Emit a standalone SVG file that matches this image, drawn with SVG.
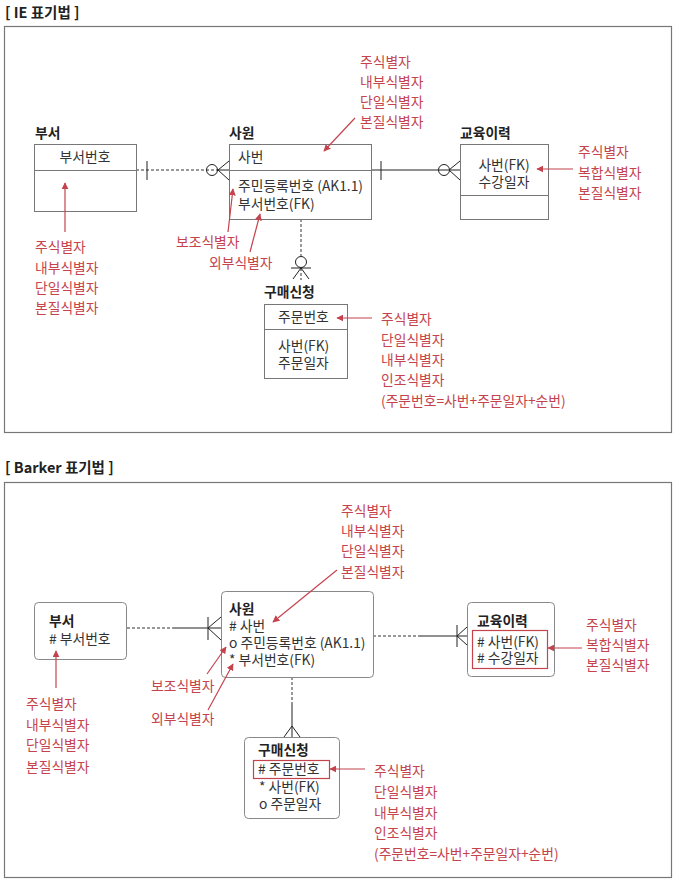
<svg xmlns="http://www.w3.org/2000/svg" width="677" height="882" viewBox="0 0 677 882">
<style>
text{font-family:"Noto Sans CJK KR","Noto Sans",sans-serif;font-size:13.8px;fill:#333}
.t{font-weight:bold;fill:#222}
.h{font-size:14.5px}
.r{fill:#c4434d}
.frame{fill:none;stroke:#777;stroke-width:1.2}
.box{fill:#fff;stroke:#777;stroke-width:1}
.rbox{fill:#fff;stroke:#888;stroke-width:1}
.hl{fill:none;stroke:#c4434d;stroke-width:1.2}
.ln{fill:none;stroke:#222;stroke-width:1}
.dv{fill:none;stroke:#777;stroke-width:1}
.dash{fill:none;stroke:#333;stroke-width:1;stroke-dasharray:3 2}
.ra{fill:none;stroke:#c4434d;stroke-width:1.2;marker-end:url(#ah)}
</style>
<defs>
<marker id="ah" viewBox="0 0 10 10" refX="9" refY="5" markerWidth="7" markerHeight="7" markerUnits="userSpaceOnUse" orient="auto">
<path d="M0,0 L10,5 L0,10 z" fill="#c4434d"/>
</marker>
</defs>
<rect width="677" height="882" fill="#fff"/>

<!-- IE section -->
<text x="5" y="18" class="t h">[ IE 표기법 ]</text>
<rect x="4.5" y="26.5" width="667" height="406" class="frame"/>

<g id="ie-connectors">
<line x1="136" y1="170" x2="218" y2="170" class="dash"/>
<line x1="147" y1="161" x2="147" y2="180" class="ln"/>
<circle cx="212" cy="170" r="5.5" class="ln"/>
<path d="M218,170 L229,161 M218,170 L229,170 M218,170 L229,180" class="ln"/>
<line x1="371" y1="170" x2="460" y2="170" class="ln"/>
<line x1="381" y1="161" x2="381" y2="180" class="ln"/>
<circle cx="444" cy="170" r="5.5" class="ln"/>
<path d="M449,170 L460,161 M449,170 L460,180" class="ln"/>
<line x1="301" y1="219" x2="301" y2="256" class="dash"/>
<circle cx="301" cy="262" r="5.5" class="ln"/>
<line x1="301" y1="268" x2="301" y2="280" class="dash"/>
<path d="M291,268 L311,268 M301,268 L293,279 M301,268 L309,279" class="ln"/>
</g>

<g id="ie-busu">
<text x="35" y="138" class="t">부서</text>
<rect x="34.5" y="144.5" width="102" height="67" class="box"/>
<line x1="34.5" y1="170.5" x2="136.5" y2="170.5" class="dv"/>
<text x="85" y="162" text-anchor="middle">부서번호</text>
</g>

<g id="ie-sawon">
<text x="229" y="138" class="t">사원</text>
<rect x="229.5" y="144.5" width="142" height="75" class="box"/>
<line x1="229.5" y1="170.5" x2="371.5" y2="170.5" class="dv"/>
<text x="238" y="162">사번</text>
<text x="238" y="191">주민등록번호 (AK1.1)</text>
<text x="238" y="209">부서번호(FK)</text>
</g>

<g id="ie-edu">
<text x="460" y="138" class="t">교육이력</text>
<rect x="460.5" y="144.5" width="88" height="75" class="box"/>
<line x1="460.5" y1="195.5" x2="548.5" y2="195.5" class="dv"/>
<text x="504" y="170" text-anchor="middle">사번(FK)</text>
<text x="504" y="187" text-anchor="middle">수강일자</text>
</g>

<g id="ie-order">
<text x="264" y="297" class="t">구매신청</text>
<rect x="264.5" y="304.5" width="83" height="74" class="box"/>
<line x1="264.5" y1="329.5" x2="347.5" y2="329.5" class="dv"/>
<text x="278" y="322">주문번호</text>
<text x="278" y="351">사번(FK)</text>
<text x="278" y="368">주문일자</text>
</g>

<g id="ie-notes">
<text x="360" y="67" class="r">주식별자</text>
<text x="360" y="87" class="r">내부식별자</text>
<text x="360" y="107" class="r">단일식별자</text>
<text x="360" y="127" class="r">본질식별자</text>
<line x1="355" y1="118" x2="324" y2="151" class="ra"/>
<text x="578" y="157" class="r">주식별자</text>
<text x="578" y="178" class="r">복합식별자</text>
<text x="578" y="198" class="r">본질식별자</text>
<line x1="573" y1="169" x2="537" y2="169" class="ra"/>
<line x1="65" y1="232" x2="65" y2="183" class="ra"/>
<text x="35" y="252" class="r">주식별자</text>
<text x="35" y="273" class="r">내부식별자</text>
<text x="35" y="293" class="r">단일식별자</text>
<text x="35" y="313" class="r">본질식별자</text>
<text x="176" y="247" class="r">보조식별자</text>
<text x="209" y="268" class="r">외부식별자</text>
<line x1="228" y1="232" x2="233" y2="189" class="ra"/>
<line x1="250" y1="252" x2="260" y2="214" class="ra"/>
<line x1="372" y1="318" x2="337" y2="318" class="ra"/>
<text x="381" y="324" class="r">주식별자</text>
<text x="381" y="345" class="r">단일식별자</text>
<text x="381" y="365" class="r">내부식별자</text>
<text x="381" y="385" class="r">인조식별자</text>
<text x="381" y="406" class="r">(주문번호=사번+주문일자+순번)</text>
</g>

<!-- Barker section -->
<text x="5" y="473" class="t h">[ Barker 표기법 ]</text>
<rect x="4.5" y="482.5" width="667" height="395" class="frame"/>

<g id="bk-connectors">
<line x1="127" y1="628" x2="173" y2="628" class="dash"/>
<line x1="173" y1="628" x2="221" y2="628" class="ln"/>
<line x1="208" y1="617" x2="208" y2="640" class="ln"/>
<path d="M208,628 L221,617 M208,628 L221,640" class="ln"/>
<line x1="373" y1="636" x2="419" y2="636" class="dash"/>
<line x1="419" y1="636" x2="467" y2="636" class="ln"/>
<line x1="457" y1="625" x2="457" y2="647" class="ln"/>
<path d="M457,636 L467,627 M457,636 L467,645" class="ln"/>
<line x1="292" y1="677" x2="292" y2="703" class="dash"/>
<line x1="292" y1="703" x2="292" y2="737" class="ln"/>
<path d="M284,737 L292,726 L300,737" class="ln"/>
</g>

<g id="bk-busu">
<rect x="34.5" y="602.5" width="92" height="57" rx="4" class="rbox"/>
<text x="49" y="626" class="t">부서</text>
<text x="49" y="644"># 부서번호</text>
</g>

<g id="bk-sawon">
<rect x="221.5" y="591.5" width="152" height="86" rx="4" class="rbox"/>
<text x="229" y="614" class="t">사원</text>
<text x="229" y="631"># 사번</text>
<text x="229" y="648">o 주민등록번호 (AK1.1)</text>
<text x="229" y="665">* 부서번호(FK)</text>
</g>

<g id="bk-edu">
<rect x="467.5" y="602.5" width="87" height="74" rx="4" class="rbox"/>
<text x="477" y="626" class="t">교육이력</text>
<rect x="472.5" y="630.5" width="75" height="38" class="hl"/>
<text x="477" y="647"># 사번(FK)</text>
<text x="477" y="663"># 수강일자</text>
</g>

<g id="bk-order">
<rect x="244.5" y="737.5" width="95" height="81" rx="4" class="rbox"/>
<text x="258" y="755" class="t">구매신청</text>
<rect x="253.5" y="760.5" width="76" height="18" class="hl"/>
<text x="258" y="774"># 주문번호</text>
<text x="259" y="792">* 사번(FK)</text>
<text x="259" y="809">o 주문일자</text>
</g>

<g id="bk-notes">
<text x="341" y="516" class="r">주식별자</text>
<text x="341" y="536" class="r">내부식별자</text>
<text x="341" y="556" class="r">단일식별자</text>
<text x="341" y="577" class="r">본질식별자</text>
<line x1="337" y1="570" x2="273" y2="622" class="ra"/>
<text x="586" y="630" class="r">주식별자</text>
<text x="586" y="650" class="r">복합식별자</text>
<text x="586" y="670" class="r">본질식별자</text>
<line x1="582" y1="648" x2="548" y2="648" class="ra"/>
<line x1="56" y1="688" x2="56" y2="651" class="ra"/>
<text x="26" y="709" class="r">주식별자</text>
<text x="26" y="730" class="r">내부식별자</text>
<text x="26" y="750" class="r">단일식별자</text>
<text x="26" y="772" class="r">본질식별자</text>
<text x="151" y="691" class="r">보조식별자</text>
<text x="151" y="724" class="r">외부식별자</text>
<line x1="207" y1="674" x2="226" y2="647" class="ra"/>
<line x1="208" y1="710" x2="233" y2="664" class="ra"/>
<line x1="365" y1="769" x2="330" y2="769" class="ra"/>
<text x="374" y="776" class="r">주식별자</text>
<text x="374" y="797" class="r">단일식별자</text>
<text x="374" y="818" class="r">내부식별자</text>
<text x="374" y="838" class="r">인조식별자</text>
<text x="374" y="859" class="r">(주문번호=사번+주문일자+순번)</text>
</g>
</svg>
